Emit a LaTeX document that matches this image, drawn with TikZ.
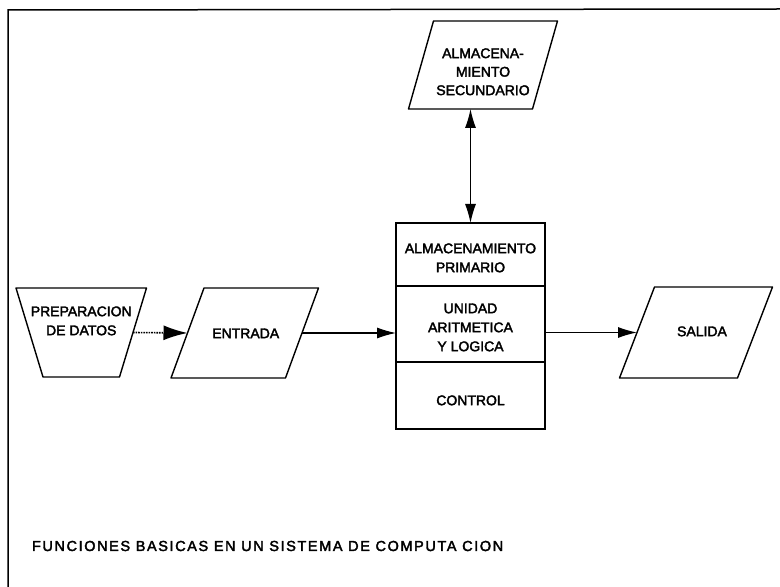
\documentclass[tikz,border=0pt]{standalone}
\usepackage{fontspec}
\usetikzlibrary{arrows.meta,calc}
\newfontfamily\lab{Liberation Sans}[UprightFeatures={FakeBold=2.5}]
\newfontfamily\titlefont{Liberation Sans}[LetterSpace=11,UprightFeatures={FakeBold=2.5}]
\newcommand\shifttext[2]{\raisebox{#1}[0pt][0pt]{\begin{tabular}{@{}c@{}}#2\end{tabular}}}
\newcommand\paraoutline[2]{\draw[shapeline] ([xshift=-#2]#1.south west) -- ([xshift=#2]#1.north west) -- ([xshift=#2]#1.north east) -- ([xshift=-#2]#1.south east) -- cycle;}
\newcommand\trapoutline[2]{\draw[shapeline] ([xshift=-#2]#1.north west) -- ([xshift=#2]#1.north east) -- ([xshift=-#2]#1.south east) -- ([xshift=#2]#1.south west) -- cycle;}
\begin{document}
\begin{tikzpicture}[x=1pt,y=1pt,
  every node/.style={inner sep=0pt, outer sep=0pt, font=\lab\fontsize{14}{19}\selectfont},
  shapeline/.style={line width=1.4pt, line join=round},
  boxpart/.style={draw, line width=1.6pt, minimum width=149pt},
  arr/.style={line width=1.1pt, -{Latex[length=19pt,width=11pt]}},
  dotarr/.style={line width=1.6pt, densely dotted, -{Latex[length=24pt,width=15pt]}},
  dblarr/.style={line width=1.1pt, {Latex[length=19pt,width=11pt]}-{Latex[length=19pt,width=11pt]}},
  frame/.style={line width=1.5pt}
]
\useasboundingbox (0,0) rectangle (780,587);
\draw[frame] (8,0) -- (8,577) -- (780,578);

% secondary storage
\node[minimum width=124pt, minimum height=88pt, font=\lab\fontsize{14}{18.5}\selectfont] (sec) at (483,522)
  {\shifttext{-11.5pt}{ALMACENA-\\MIENTO\\SECUNDARIO}};
\paraoutline{sec}{12.5pt}

% central box
\node[boxpart, minimum height=63pt] (prim) at (470.5,332.5) {\shifttext{-8pt}{ALMACENAMIENTO\\PRIMARIO}};
\node[boxpart, minimum height=76pt] (alu) at (470.5,263) {\shifttext{-8pt}{UNIDAD\\ARITMETICA\\Y LOGICA}};
\node[boxpart, minimum height=67pt] (ctrl) at (470.5,191.5) {\shifttext{-9.5pt}{CONTROL}};

% preparation
\node[minimum width=103.5pt, minimum height=89pt] (prep) at (81.25,254.5) {\shifttext{7pt}{PREPARACION\\DE DATOS}};
\trapoutline{prep}{13.5pt}

% entrada
\node[minimum width=114.5pt, minimum height=90pt] (entrada) at (244.75,254) {\shifttext{-5pt}{\hspace*{2pt}ENTRADA}};
\paraoutline{entrada}{16.5pt}

% salida
\node[minimum width=118pt, minimum height=91pt] (salida) at (696,254.5) {\shifttext{-3.5pt}{\hspace*{12pt}SALIDA}};
\paraoutline{salida}{17.5pt}

% connectors
\draw[dotarr] (prep.east) -- (entrada.west);
\draw[arr] (entrada.east) -- (entrada.east -| alu.west);
\draw[arr] (salida.west -| alu.east) -- (salida.west);
\draw[dblarr] (prim.north) -- (prim.north |- sec.south);

% title
\node[anchor=west, font=\titlefont\fontsize{14.5}{17}\selectfont] (title) at (32,41)
  {FUNCIONES BASICAS EN UN SISTEMA DE COMPUTA CION};
\end{tikzpicture}
\end{document}
